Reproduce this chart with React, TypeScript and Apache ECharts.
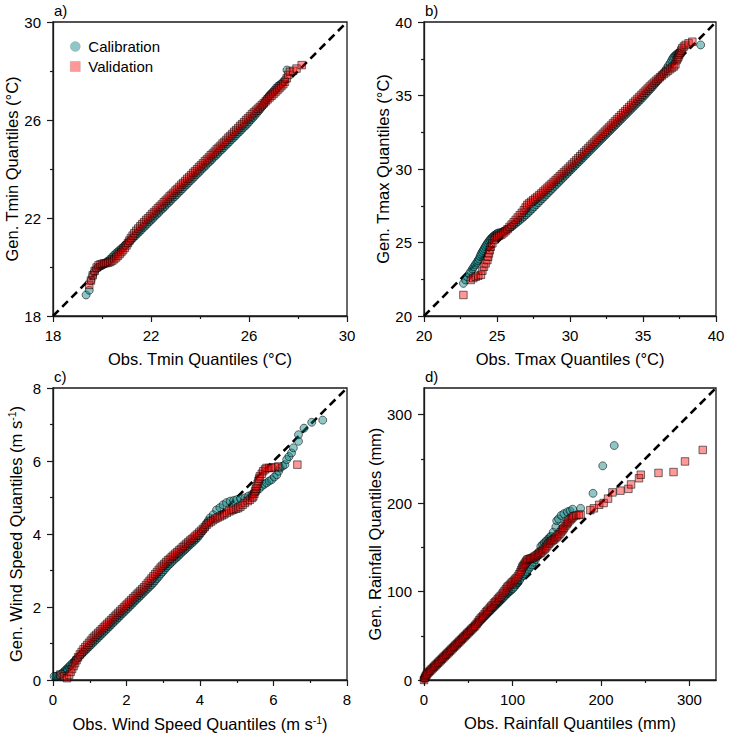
import React, { useEffect, useRef } from "react";
import * as echarts from "echarts";

// Quantile pairs [observed, generated] for each variable and period.

const tminCalibration = [
  [19.35, 18.86], [19.48, 19.05], [19.55, 19.45], [19.62, 19.65], [19.68, 19.79], [19.76, 19.92],
  [19.84, 19.98], [19.92, 20.02], [20.0, 20.06], [20.08, 20.11], [20.16, 20.17], [20.24, 20.24],
  [20.32, 20.31], [20.4, 20.39], [20.48, 20.47], [20.56, 20.55], [20.64, 20.62], [20.72, 20.69],
  [20.8, 20.76], [20.88, 20.83], [20.96, 20.9], [21.04, 20.97], [21.12, 21.04], [21.2, 21.12],
  [21.28, 21.2], [21.36, 21.27], [21.44, 21.36], [21.52, 21.43], [21.6, 21.51], [21.68, 21.6],
  [21.76, 21.67], [21.84, 21.75], [21.92, 21.84], [22.0, 21.91], [22.08, 21.99], [22.16, 22.08],
  [22.24, 22.15], [22.32, 22.23], [22.4, 22.32], [22.48, 22.39], [22.56, 22.47], [22.64, 22.56],
  [22.72, 22.63], [22.8, 22.71], [22.88, 22.8], [22.96, 22.87], [23.04, 22.95], [23.12, 23.04],
  [23.2, 23.11], [23.28, 23.19], [23.36, 23.28], [23.44, 23.35], [23.52, 23.43], [23.6, 23.52],
  [23.68, 23.59], [23.76, 23.67], [23.84, 23.76], [23.92, 23.83], [24.0, 23.91], [24.08, 24.0],
  [24.16, 24.07], [24.24, 24.15], [24.32, 24.24], [24.4, 24.31], [24.48, 24.39], [24.56, 24.48],
  [24.64, 24.55], [24.72, 24.63], [24.8, 24.72], [24.88, 24.79], [24.96, 24.87], [25.04, 24.96],
  [25.12, 25.03], [25.2, 25.11], [25.28, 25.2], [25.36, 25.27], [25.44, 25.35], [25.52, 25.44],
  [25.6, 25.51], [25.68, 25.59], [25.76, 25.68], [25.84, 25.75], [25.92, 25.83], [26.0, 25.92],
  [26.08, 26.01], [26.16, 26.1], [26.24, 26.19], [26.32, 26.28], [26.4, 26.38], [26.48, 26.48],
  [26.56, 26.58], [26.63, 26.69], [26.7, 26.8], [26.76, 26.9], [26.82, 26.98], [26.88, 27.05],
  [26.95, 27.12], [27.02, 27.2], [27.1, 27.3], [27.18, 27.38], [27.26, 27.44], [27.35, 27.51],
  [27.46, 27.63], [27.55, 28.04],
];

const tminValidation = [
  [19.48, 19.27], [19.55, 19.45], [19.62, 19.66], [19.7, 19.84], [19.78, 19.98], [19.86, 20.07],
  [19.94, 20.11], [20.02, 20.13], [20.1, 20.15], [20.18, 20.16], [20.26, 20.18], [20.34, 20.21],
  [20.42, 20.26], [20.5, 20.32], [20.58, 20.39], [20.65, 20.46], [20.72, 20.53], [20.79, 20.61],
  [20.86, 20.69], [20.93, 20.78], [21.0, 20.88], [21.06, 20.98], [21.12, 21.08], [21.18, 21.18],
  [21.25, 21.28], [21.32, 21.38], [21.4, 21.48], [21.48, 21.57], [21.56, 21.66], [21.64, 21.75],
  [21.72, 21.83], [21.8, 21.92], [21.88, 21.99], [21.96, 22.07], [22.04, 22.16], [22.12, 22.23],
  [22.2, 22.31], [22.28, 22.4], [22.36, 22.47], [22.44, 22.55], [22.52, 22.64], [22.6, 22.71],
  [22.68, 22.79], [22.76, 22.88], [22.84, 22.95], [22.92, 23.03], [23.0, 23.12], [23.08, 23.19],
  [23.16, 23.27], [23.24, 23.36], [23.32, 23.43], [23.4, 23.51], [23.48, 23.6], [23.56, 23.67],
  [23.64, 23.75], [23.72, 23.84], [23.8, 23.91], [23.88, 23.99], [23.96, 24.08], [24.04, 24.15],
  [24.12, 24.23], [24.2, 24.32], [24.28, 24.39], [24.36, 24.47], [24.44, 24.56], [24.52, 24.63],
  [24.6, 24.71], [24.68, 24.8], [24.76, 24.87], [24.84, 24.95], [24.92, 25.04], [25.0, 25.11],
  [25.08, 25.19], [25.16, 25.28], [25.24, 25.35], [25.32, 25.43], [25.4, 25.52], [25.48, 25.59],
  [25.56, 25.67], [25.64, 25.76], [25.72, 25.83], [25.8, 25.91], [25.88, 26.0], [25.96, 26.07],
  [26.04, 26.15], [26.12, 26.24], [26.2, 26.31], [26.28, 26.38], [26.36, 26.46], [26.44, 26.53],
  [26.52, 26.61], [26.6, 26.68], [26.68, 26.76], [26.76, 26.84], [26.84, 26.92], [26.92, 26.99],
  [27.0, 27.06], [27.08, 27.14], [27.16, 27.22], [27.24, 27.3], [27.32, 27.38], [27.4, 27.46],
  [27.47, 27.56], [27.54, 27.7], [27.6, 27.84], [27.67, 27.97], [27.8, 28.01], [27.94, 28.1],
  [28.15, 28.24],
];

const tmaxCalibration = [
  [22.7, 22.22], [22.85, 22.45], [22.97, 22.67], [23.1, 22.86], [23.2, 23.02], [23.32, 23.2],
  [23.42, 23.35], [23.52, 23.5], [23.62, 23.64], [23.7, 23.77], [23.77, 23.88], [23.84, 24.04],
  [23.9, 24.2], [23.98, 24.33], [24.05, 24.45], [24.12, 24.58], [24.2, 24.72], [24.28, 24.84],
  [24.36, 24.96], [24.44, 25.07], [24.52, 25.18], [24.6, 25.27], [24.68, 25.35], [24.76, 25.43],
  [24.85, 25.5], [24.94, 25.56], [25.02, 25.62], [25.12, 25.65], [25.25, 25.68], [25.38, 25.72],
  [25.5, 25.78], [25.62, 25.84], [25.75, 25.92], [25.88, 26.0], [26.0, 26.08], [26.14, 26.18],
  [26.28, 26.3], [26.42, 26.41], [26.56, 26.52], [26.7, 26.64], [26.84, 26.76], [26.98, 26.88],
  [27.12, 27.01], [27.26, 27.14], [27.4, 27.28], [27.54, 27.42], [27.68, 27.56], [27.82, 27.7],
  [27.96, 27.84], [28.1, 27.98], [28.24, 28.12], [28.38, 28.26], [28.52, 28.4], [28.66, 28.54],
  [28.8, 28.68], [28.94, 28.82], [29.08, 28.96], [29.22, 29.1], [29.36, 29.24], [29.5, 29.38],
  [29.64, 29.52], [29.78, 29.66], [29.92, 29.8], [30.06, 29.94], [30.2, 30.08], [30.34, 30.22],
  [30.48, 30.36], [30.62, 30.5], [30.76, 30.64], [30.9, 30.78], [31.04, 30.92], [31.18, 31.06],
  [31.32, 31.2], [31.46, 31.34], [31.6, 31.48], [31.74, 31.62], [31.88, 31.76], [32.02, 31.9],
  [32.16, 32.04], [32.3, 32.18], [32.44, 32.32], [32.58, 32.46], [32.72, 32.6], [32.86, 32.74],
  [33.0, 32.88], [33.14, 33.02], [33.28, 33.16], [33.42, 33.3], [33.56, 33.44], [33.7, 33.58],
  [33.84, 33.72], [33.98, 33.86], [34.12, 34.0], [34.26, 34.14], [34.4, 34.28], [34.54, 34.42],
  [34.68, 34.56], [34.82, 34.7], [34.96, 34.85], [35.1, 35.0], [35.24, 35.15], [35.38, 35.3],
  [35.52, 35.45], [35.66, 35.61], [35.8, 35.77], [35.94, 35.94], [36.08, 36.11], [36.22, 36.29],
  [36.36, 36.47], [36.5, 36.65], [36.62, 36.84], [36.74, 37.02], [36.86, 37.2], [36.96, 37.38],
  [37.04, 37.52], [37.12, 37.64], [37.22, 37.72], [37.3, 37.8], [37.38, 37.86], [37.47, 37.9],
  [38.95, 38.44],
];

const tmaxValidation = [
  [22.7, 21.43], [23.2, 22.45], [23.38, 22.58], [23.54, 22.67], [23.72, 22.74], [23.9, 22.8],
  [24.0, 23.08], [24.11, 23.35], [24.22, 23.58], [24.34, 23.8], [24.4, 24.03], [24.45, 24.26],
  [24.51, 24.48], [24.57, 24.71], [24.68, 24.94], [24.8, 25.17], [24.91, 25.3], [25.02, 25.4],
  [25.16, 25.47], [25.3, 25.54], [25.44, 25.64], [25.58, 25.76], [25.72, 25.9], [25.86, 26.06],
  [26.0, 26.22], [26.14, 26.38], [26.28, 26.54], [26.42, 26.7], [26.56, 26.86], [26.7, 27.02],
  [26.84, 27.2], [26.96, 27.38], [27.07, 27.55], [27.2, 27.66], [27.34, 27.77], [27.48, 27.88],
  [27.62, 27.99], [27.76, 28.1], [27.9, 28.22], [28.04, 28.34], [28.18, 28.47], [28.32, 28.6],
  [28.46, 28.73], [28.6, 28.86], [28.74, 28.99], [28.88, 29.12], [29.02, 29.25], [29.16, 29.38],
  [29.3, 29.51], [29.44, 29.64], [29.58, 29.77], [29.72, 29.9], [29.86, 30.03], [30.0, 30.17],
  [30.14, 30.31], [30.28, 30.45], [30.42, 30.59], [30.56, 30.73], [30.7, 30.87], [30.84, 31.01],
  [30.98, 31.15], [31.12, 31.29], [31.26, 31.43], [31.4, 31.57], [31.54, 31.71], [31.68, 31.85],
  [31.82, 31.99], [31.96, 32.12], [32.1, 32.26], [32.24, 32.4], [32.38, 32.54], [32.52, 32.68],
  [32.66, 32.82], [32.8, 32.96], [32.94, 33.1], [33.08, 33.24], [33.22, 33.38], [33.36, 33.52],
  [33.5, 33.66], [33.64, 33.8], [33.78, 33.93], [33.92, 34.07], [34.06, 34.21], [34.2, 34.35],
  [34.34, 34.49], [34.48, 34.63], [34.62, 34.77], [34.76, 34.91], [34.9, 35.05], [35.04, 35.19],
  [35.18, 35.33], [35.32, 35.47], [35.46, 35.61], [35.6, 35.74], [35.74, 35.87], [35.88, 36.0],
  [36.02, 36.12], [36.16, 36.24], [36.3, 36.36], [36.44, 36.47], [36.58, 36.58], [36.72, 36.69],
  [36.86, 36.8], [37.0, 36.9], [37.12, 36.98], [37.22, 37.12], [37.3, 37.4], [37.36, 37.52],
  [37.42, 37.62], [37.48, 37.76], [37.55, 37.9], [37.62, 38.06], [37.69, 38.21], [37.8, 38.33],
  [37.92, 38.44], [38.12, 38.55], [38.38, 38.66],
];

const windCalibration = [
  [0.03, 0.1], [0.08, 0.1], [0.13, 0.11], [0.18, 0.13], [0.23, 0.17], [0.28, 0.21], [0.33, 0.26],
  [0.38, 0.31], [0.43, 0.36], [0.48, 0.41], [0.53, 0.46], [0.58, 0.51], [0.63, 0.56], [0.68, 0.61],
  [0.73, 0.66], [0.78, 0.71], [0.83, 0.76], [0.88, 0.81], [0.93, 0.86], [0.98, 0.91], [1.03, 0.96],
  [1.08, 1.01], [1.13, 1.06], [1.18, 1.11], [1.23, 1.16], [1.28, 1.21], [1.33, 1.26], [1.38, 1.31],
  [1.43, 1.36], [1.48, 1.41], [1.53, 1.46], [1.58, 1.51], [1.63, 1.56], [1.68, 1.61], [1.73, 1.66],
  [1.78, 1.71], [1.83, 1.76], [1.88, 1.81], [1.93, 1.86], [1.98, 1.91], [2.03, 1.96], [2.08, 2.01],
  [2.13, 2.06], [2.18, 2.11], [2.23, 2.16], [2.28, 2.21], [2.33, 2.26], [2.38, 2.31], [2.43, 2.36],
  [2.48, 2.41], [2.53, 2.46], [2.58, 2.51], [2.63, 2.56], [2.68, 2.61], [2.73, 2.66], [2.78, 2.72],
  [2.83, 2.78], [2.88, 2.84], [2.93, 2.9], [2.98, 2.96], [3.03, 3.02], [3.08, 3.08], [3.13, 3.13],
  [3.18, 3.18], [3.23, 3.23], [3.28, 3.28], [3.33, 3.33], [3.38, 3.37], [3.43, 3.42], [3.48, 3.47],
  [3.53, 3.52], [3.58, 3.56], [3.63, 3.61], [3.68, 3.66], [3.73, 3.71], [3.78, 3.75], [3.83, 3.8],
  [3.88, 3.85], [3.93, 3.9], [3.98, 3.96], [4.03, 4.03], [4.08, 4.1], [4.13, 4.18], [4.18, 4.28],
  [4.22, 4.36], [4.27, 4.44], [4.36, 4.53], [4.45, 4.66], [4.54, 4.72], [4.63, 4.8], [4.72, 4.86],
  [4.82, 4.9], [4.92, 4.92], [5.0, 4.94], [5.1, 4.97], [5.22, 4.99], [5.32, 5.04], [5.41, 5.08],
  [5.48, 5.12], [5.54, 5.17], [5.61, 5.24], [5.68, 5.31], [5.75, 5.36], [5.81, 5.4], [5.88, 5.45],
  [5.95, 5.49], [6.02, 5.56], [6.09, 5.62], [6.14, 5.72], [6.18, 5.81], [6.25, 5.86], [6.31, 5.9],
  [6.36, 6.04], [6.42, 6.12], [6.49, 6.22], [6.54, 6.36], [6.68, 6.54], [6.68, 6.72], [6.83, 6.9],
  [7.04, 7.06], [7.34, 7.12],
];

const windValidation = [
  [0.2, 0.15], [0.3, 0.1], [0.38, 0.05], [0.44, 0.14], [0.48, 0.22], [0.52, 0.3], [0.56, 0.38],
  [0.6, 0.46], [0.64, 0.54], [0.68, 0.62], [0.73, 0.7], [0.78, 0.77], [0.83, 0.84], [0.88, 0.9],
  [0.93, 0.96], [0.98, 1.02], [1.03, 1.08], [1.08, 1.14], [1.13, 1.19], [1.18, 1.24], [1.23, 1.29],
  [1.28, 1.34], [1.33, 1.39], [1.38, 1.44], [1.43, 1.49], [1.48, 1.54], [1.53, 1.59], [1.58, 1.64],
  [1.63, 1.69], [1.68, 1.74], [1.73, 1.79], [1.78, 1.84], [1.83, 1.89], [1.88, 1.94], [1.93, 1.99],
  [1.98, 2.04], [2.03, 2.09], [2.08, 2.14], [2.13, 2.19], [2.18, 2.24], [2.23, 2.29], [2.28, 2.34],
  [2.33, 2.39], [2.38, 2.44], [2.43, 2.49], [2.48, 2.54], [2.53, 2.6], [2.58, 2.66], [2.63, 2.72],
  [2.68, 2.78], [2.73, 2.84], [2.78, 2.9], [2.83, 2.96], [2.88, 3.02], [2.93, 3.08], [2.98, 3.13],
  [3.03, 3.18], [3.08, 3.23], [3.13, 3.28], [3.18, 3.32], [3.23, 3.37], [3.28, 3.41], [3.33, 3.46],
  [3.38, 3.5], [3.43, 3.55], [3.48, 3.59], [3.53, 3.64], [3.58, 3.68], [3.63, 3.73], [3.68, 3.77],
  [3.73, 3.82], [3.78, 3.86], [3.83, 3.9], [3.88, 3.95], [3.93, 3.99], [3.98, 4.04], [4.03, 4.09],
  [4.08, 4.14], [4.13, 4.19], [4.18, 4.25], [4.24, 4.3], [4.3, 4.34], [4.36, 4.38], [4.42, 4.42],
  [4.48, 4.45], [4.54, 4.48], [4.6, 4.51], [4.66, 4.54], [4.73, 4.58], [4.8, 4.62], [4.86, 4.65],
  [4.91, 4.67], [4.98, 4.69], [5.04, 4.71], [5.1, 4.75], [5.16, 4.8], [5.22, 4.85], [5.3, 4.9],
  [5.36, 4.94], [5.42, 4.99], [5.45, 5.03], [5.48, 5.1], [5.5, 5.17], [5.52, 5.24], [5.54, 5.31],
  [5.57, 5.38], [5.59, 5.45], [5.61, 5.52], [5.63, 5.58], [5.68, 5.65], [5.72, 5.72], [5.77, 5.77],
  [5.81, 5.81], [5.88, 5.81], [5.95, 5.81], [6.04, 5.83], [6.13, 5.85], [6.65, 5.9],
];

const rainCalibration = [
  [0, 1], [0.5, 2], [1, 3], [1.5, 4], [2, 5], [3, 6], [4, 7.5], [5, 8.5], [6, 9.5], [7.5, 11],
  [9, 12.5], [10.5, 14], [12, 15.5], [13.5, 17], [15, 18.5], [16.5, 20], [18, 21.5], [19.5, 23],
  [21, 24.5], [22.5, 26], [24, 27.5], [25.5, 29], [27, 30.5], [28.5, 32], [30, 33.5], [31.5, 35],
  [33, 36.5], [34.5, 38], [36, 39.5], [37.5, 41], [39, 42.5], [40.5, 44], [42, 45.5], [43.5, 47],
  [45, 48.5], [46.5, 50], [48, 51.5], [49.5, 53], [51, 54.5], [52.5, 56], [54, 57.5], [55.5, 59],
  [57, 60.5], [58.5, 62], [60, 63.5], [61.5, 65], [63, 66.5], [64.5, 68], [66, 69.5], [67.5, 71],
  [69, 72.5], [70.5, 74], [72, 75.5], [73.5, 77], [75, 78.5], [76.5, 80], [78, 81.5], [79.5, 83],
  [81, 84.5], [82.5, 86], [84, 87.5], [85.5, 89], [87, 90.5], [88.5, 92], [90, 93.5], [92, 95.5],
  [94, 97.5], [96, 99.5], [98, 101], [100, 103], [102, 105], [104, 107.5], [106, 110], [108, 113],
  [110, 116], [112, 118], [114, 120], [116, 122.5], [118, 125], [120, 127.5], [122, 130],
  [124, 133], [126, 136], [128, 140], [130, 145], [132, 151], [134, 153], [136, 155], [138, 157],
  [140, 159], [142, 161], [143.4, 162.4], [146, 167], [149, 173], [150, 180], [152, 182],
  [155, 186], [158, 188], [162, 190], [165, 191], [168, 193], [177, 194], [191, 211], [202, 242],
  [215, 265],
];

const rainValidation = [
  [0, 0], [1, 2.5], [2, 4.5], [3, 6], [4, 7.5], [5.5, 9], [7, 10.5], [8.5, 12], [10, 13.5],
  [11.5, 15], [13, 16.5], [14.5, 18], [16, 19.5], [17.5, 21], [19, 22.5], [20.5, 24], [22, 25.5],
  [23.5, 27], [25, 28.5], [26.5, 30], [28, 31.5], [29.5, 33], [31, 34.5], [32.5, 36], [34, 37.5],
  [35.5, 39], [37, 40.5], [38.5, 42], [40, 43.5], [41.5, 45], [43, 46.5], [44.5, 48], [46, 49.5],
  [47.5, 51], [49, 52.5], [50.5, 54], [52, 55.5], [53.5, 57], [55, 58.5], [56.5, 60], [58, 61.5],
  [59.5, 63.5], [61, 65.5], [62.5, 67.5], [64, 69.5], [65.5, 71], [67, 72.5], [68.5, 74.5],
  [70, 76.5], [71.5, 78], [73, 79.5], [74.5, 81.5], [76, 83], [77.5, 84.5], [79, 86.5], [80.5, 88],
  [82, 89.5], [83.5, 91.5], [85, 93], [86.5, 94.5], [88, 96.5], [89.5, 98.5], [91, 100.5],
  [92.5, 102.5], [94, 104.5], [95.5, 106], [97, 107.5], [98.5, 109], [100, 110.5], [101.5, 112],
  [103, 113.5], [104.5, 115], [106, 117], [107.5, 119.5], [109, 122], [110, 124.5], [111, 127],
  [112, 128.5], [113, 130], [114, 131.5], [115, 133], [116, 134.5], [117, 136], [118.5, 136.5],
  [120, 137], [121.5, 137.5], [123, 138], [124.5, 139], [126, 140], [127.5, 141], [129, 142],
  [130.5, 143], [132, 144], [133.5, 145.5], [135, 147], [136.5, 148.5], [138, 150], [139.5, 152],
  [141, 154], [142.5, 155.5], [144, 157], [145.5, 158], [147, 159], [148.5, 160.5], [150, 162],
  [151.5, 163.5], [153, 165], [154.5, 167], [156, 169], [157, 170.5], [158, 172], [159.5, 174],
  [161, 176], [162, 177.5], [163, 179], [164.5, 180.5], [166, 182], [167.5, 183.5], [169, 185],
  [172, 186], [175, 186.5], [177, 187], [188, 192], [192, 194], [198, 198], [203, 200], [208, 205],
  [213, 212], [222, 214], [231, 216], [234, 221], [243, 228], [245, 232], [265, 234], [282, 235],
  [295, 247], [315, 260],
];

// Axis ranges and tick labels
const tminTicks = [18, 22, 26, 30];
const tmaxTicks = [20, 25, 30, 35, 40];
const windTicks = [0, 2, 4, 6, 8];
const rainTicks = [0, 100, 200, 300];
const rainMinorTicks = [50, 150, 250];
const rainMax = 330;

const FONT = "'Liberation Sans', Arial, Helvetica, sans-serif";
const INK = "#1a1a1a";
const NAME_SIZE = 16.5;

const supRich = {
  t: { fontSize: NAME_SIZE, color: "#000", fontFamily: FONT, lineHeight: 20 },
  s: { fontSize: 10.5, color: "#000", fontFamily: FONT, verticalAlign: "top", lineHeight: 11 },
};

type Panel = {
  grid: { left: number; top: number; width: number; height: number };
  ticks: number[];
  minor?: number[];
  max: number;
  xName: string;
  yName: string;
  rich?: boolean;
  calibration: number[][];
  validation: number[][];
  label: string;
};

const panels: Panel[] = [
  {
    grid: { left: 53, top: 22, width: 294, height: 294 },
    ticks: tminTicks,
    max: tminTicks[tminTicks.length - 1],
    xName: "Obs. Tmin Quantiles (°C)",
    yName: "Gen. Tmin Quantiles (°C)",
    calibration: tminCalibration,
    validation: tminValidation,
    label: "a)",
  },
  {
    grid: { left: 424, top: 22, width: 292, height: 294 },
    ticks: tmaxTicks,
    max: tmaxTicks[tmaxTicks.length - 1],
    xName: "Obs. Tmax Quantiles (°C)",
    yName: "Gen. Tmax Quantiles (°C)",
    calibration: tmaxCalibration,
    validation: tmaxValidation,
    label: "b)",
  },
  {
    grid: { left: 53, top: 388, width: 294, height: 292 },
    ticks: windTicks,
    max: windTicks[windTicks.length - 1],
    xName: "{t|Obs. Wind Speed Quantiles (m s}{s|-1}{t|)}",
    yName: "{t|Gen. Wind Speed Quantiles (m s}{s|-1}{t|)}",
    rich: true,
    calibration: windCalibration,
    validation: windValidation,
    label: "c)",
  },
  {
    grid: { left: 424, top: 388, width: 292, height: 292 },
    ticks: rainTicks,
    minor: rainMinorTicks,
    max: rainMax,
    xName: "Obs. Rainfall Quantiles (mm)",
    yName: "Gen. Rainfall Quantiles (mm)",
    calibration: rainCalibration,
    validation: rainValidation,
    label: "d)",
  },
];

function buildAxis(p: Panel, gridIndex: number, isX: boolean) {
  const min = p.ticks[0];
  const interval = p.ticks[1] - p.ticks[0];
  const custom = !!p.minor;
  return {
    type: "value",
    gridIndex,
    position: isX ? "bottom" : "left",
    min,
    max: p.max,
    interval: custom ? undefined : interval,
    name: isX ? p.xName : p.yName,
    nameLocation: "middle",
    nameGap: isX ? 34 : 27,
    nameTextStyle: p.rich
      ? { rich: supRich }
      : { fontSize: NAME_SIZE, color: "#000", fontFamily: FONT },
    axisLine: { show: true, onZero: false, lineStyle: { color: INK, width: 1.3 } },
    axisTick: {
      show: true,
      length: 6,
      lineStyle: { color: INK, width: 1.2 },
      ...(custom ? { customValues: p.ticks } : {}),
    },
    minorTick: {
      show: !custom,
      splitNumber: 2,
      length: 3,
      lineStyle: { color: INK, width: 1.2 },
    },
    axisLabel: {
      margin: 12,
      fontSize: 15,
      color: "#000",
      fontFamily: FONT,
      ...(custom ? { customValues: p.ticks } : {}),
    },
    splitLine: { show: false },
    minorSplitLine: { show: false },
  };
}

function buildMinorAxis(p: Panel, gridIndex: number, isX: boolean) {
  return {
    type: "value",
    gridIndex,
    position: isX ? "bottom" : "left",
    min: p.ticks[0],
    max: p.max,
    axisLine: { show: false, onZero: false },
    axisTick: {
      show: true,
      length: 3,
      lineStyle: { color: INK, width: 1.2 },
      customValues: p.minor,
    },
    axisLabel: { show: false },
    splitLine: { show: false },
  };
}

const markerBorder = { borderColor: "rgba(0,0,0,0.75)", borderWidth: 0.9 };

function buildOption() {
  const grid: any[] = [];
  const xAxis: any[] = [];
  const yAxis: any[] = [];
  const series: any[] = [];
  const graphic: any[] = [];

  panels.forEach((p, i) => {
    grid.push({
      ...p.grid,
      show: true,
      borderColor: INK,
      borderWidth: 1.3,
      backgroundColor: "transparent",
      containLabel: false,
    });
    xAxis.push(buildAxis(p, i, true));
    yAxis.push(buildAxis(p, i, false));
  });

  // extra axes carrying the minor ticks of the rainfall panel
  panels.forEach((p, i) => {
    if (p.minor) {
      xAxis.push(buildMinorAxis(p, i, true));
      yAxis.push(buildMinorAxis(p, i, false));
    }
  });

  panels.forEach((p, i) => {
    const lo = p.ticks[0];
    series.push({
      type: "line",
      xAxisIndex: i,
      yAxisIndex: i,
      data: [
        [lo, lo],
        [p.max, p.max],
      ],
      symbol: "none",
      silent: true,
      z: 1,
      lineStyle: { color: "#000", width: 2.6, type: [8, 5] },
    });
    series.push({
      name: "Calibration",
      type: "scatter",
      xAxisIndex: i,
      yAxisIndex: i,
      data: p.calibration,
      symbol: "circle",
      symbolSize: 8,
      z: 2,
      itemStyle: { color: "rgba(0,128,128,0.55)", ...markerBorder },
    });
    series.push({
      name: "Validation",
      type: "scatter",
      xAxisIndex: i,
      yAxisIndex: i,
      data: p.validation,
      symbol: "rect",
      symbolSize: 7.5,
      z: 3,
      itemStyle: { color: "rgba(255,0,0,0.5)", ...markerBorder },
    });
    graphic.push({
      type: "text",
      left: p.grid.left + 1,
      top: p.grid.top - 19,
      style: { text: p.label, fontSize: 15, fill: "#000", fontFamily: FONT },
    });
  });

  return {
    animation: false,
    backgroundColor: "#fff",
    textStyle: { fontFamily: FONT },
    grid,
    xAxis,
    yAxis,
    series,
    graphic,
    legend: {
      left: 70,
      top: 39,
      orient: "vertical",
      padding: 0,
      itemWidth: 10,
      itemHeight: 10,
      itemGap: 5,
      selectedMode: false,
      itemStyle: { borderColor: "rgba(0,0,0,0.25)", borderWidth: 0.6 },
      textStyle: { fontSize: 15, color: "#000", fontFamily: FONT, padding: [0, 0, 0, 3] },
      data: [
        { name: "Calibration", icon: "circle" },
        { name: "Validation", icon: "rect" },
      ],
    },
  };
}

export default function App() {
  const ref = useRef<HTMLDivElement>(null);
  useEffect(() => {
    if (!ref.current) return;
    const chart = echarts.init(ref.current, undefined, { renderer: "svg" });
    chart.setOption(buildOption() as any);
    return () => chart.dispose();
  }, []);
  return (
    <div
      ref={ref}
      style={{ position: "absolute", left: 0, top: 0, width: 729, height: 736, background: "#fff" }}
    />
  );
}
